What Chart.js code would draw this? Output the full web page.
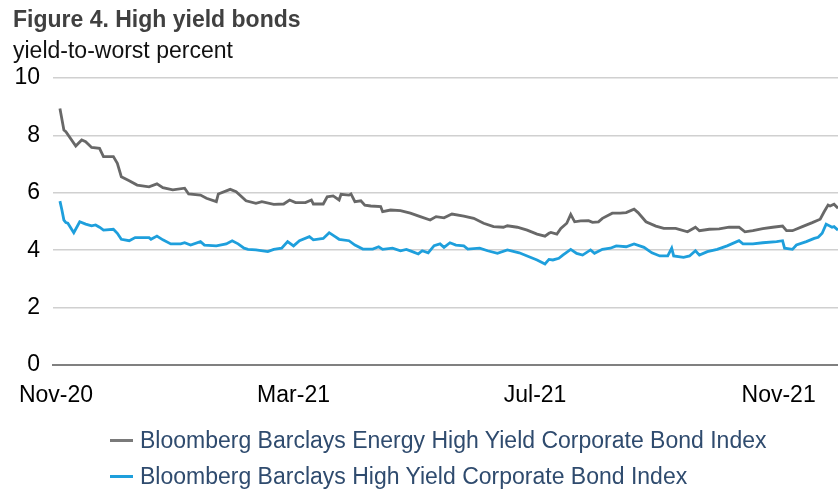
<!DOCTYPE html>
<html><head><meta charset="utf-8">
<script src="https://cdn.jsdelivr.net/npm/chart.js@4.4.1/dist/chart.umd.min.js"></script>
<style>
html,body{margin:0;padding:0;background:#fff;}
#wrap{position:relative;width:838px;height:489px;overflow:hidden;font-family:"Liberation Sans",Arial,sans-serif;}
#c{position:absolute;left:0;top:0;}
.t{position:absolute;white-space:nowrap;line-height:1;}
#title{left:13px;top:8px;font-size:23px;font-weight:bold;color:#404040;}
#sub{left:13px;top:39px;font-size:23px;color:#111;}
.leg{position:absolute;left:110px;font-size:23px;color:#2f4b6e;line-height:1;white-space:nowrap;}
.leg i{display:inline-block;width:23px;height:3px;vertical-align:middle;margin-right:7px;position:relative;top:-1px;}
</style></head><body>
<div id="wrap">
<canvas id="c" width="838" height="489"></canvas>
<div class="t" id="title">Figure 4. High yield bonds</div>
<div class="t" id="sub">yield-to-worst percent</div>
<div class="leg" id="leg1" style="top:429px"><i style="background:#7a7a7a"></i>Bloomberg Barclays Energy High Yield Corporate Bond Index</div>
<div class="leg" id="leg2" style="top:465px"><i style="background:#1e9fdc"></i>Bloomberg Barclays High Yield Corporate Bond Index</div>
</div>
<script>
// ---- data ----
const seriesNames = ['Bloomberg Barclays Energy High Yield Corporate Bond Index','Bloomberg Barclays High Yield Corporate Bond Index'];

const energyDates = ['2020-11-03','2020-11-05','2020-11-06','2020-11-11','2020-11-14','2020-11-16','2020-11-19','2020-11-23','2020-11-25','2020-11-30',
'2020-12-02','2020-12-04','2020-12-08','2020-12-12','2020-12-18','2020-12-22','2020-12-25','2020-12-30','2021-01-05','2021-01-07',
'2021-01-13','2021-01-16','2021-01-21','2021-01-22','2021-01-28','2021-01-31','2021-02-05','2021-02-10','2021-02-13','2021-02-19',
'2021-02-24','2021-02-27','2021-03-02','2021-03-07','2021-03-10','2021-03-11','2021-03-16','2021-03-18','2021-03-21','2021-03-24',
'2021-03-25','2021-03-29','2021-03-30','2021-04-01','2021-04-04','2021-04-06','2021-04-09','2021-04-14','2021-04-15','2021-04-19',
'2021-04-24','2021-04-29','2021-05-04','2021-05-09','2021-05-12','2021-05-16','2021-05-20','2021-05-26','2021-05-31','2021-06-05',
'2021-06-10','2021-06-15','2021-06-17','2021-06-22','2021-06-27','2021-07-02','2021-07-06','2021-07-08','2021-07-09','2021-07-12',
'2021-07-14','2021-07-17','2021-07-19','2021-07-21','2021-07-24','2021-07-28','2021-07-30','2021-08-02','2021-08-04','2021-08-09',
'2021-08-13','2021-08-16','2021-08-20','2021-08-22','2021-08-26','2021-08-31','2021-09-04','2021-09-10','2021-09-16','2021-09-20',
'2021-09-22','2021-09-27','2021-10-02','2021-10-07','2021-10-12','2021-10-15','2021-10-19','2021-10-24','2021-10-29','2021-11-03',
'2021-11-05','2021-11-08','2021-11-13','2021-11-18','2021-11-22','2021-11-24','2021-11-26','2021-11-27','2021-11-29','2021-12-01'];
const energyValues = [8.94,8.19,8.13,7.63,7.84,7.78,7.58,7.55,7.26,7.26,
7.03,6.56,6.42,6.27,6.21,6.31,6.18,6.10,6.16,5.96,
5.92,5.81,5.69,5.96,6.12,6.04,5.72,5.63,5.69,5.60,
5.61,5.75,5.66,5.66,5.75,5.61,5.61,5.86,5.89,5.75,
5.95,5.92,5.96,5.69,5.72,5.57,5.54,5.52,5.34,5.40,
5.38,5.29,5.17,5.05,5.17,5.13,5.26,5.19,5.11,4.94,
4.82,4.80,4.85,4.80,4.70,4.56,4.49,4.59,4.62,4.56,
4.76,4.94,5.25,4.99,5.02,5.03,4.97,4.99,5.11,5.29,
5.29,5.31,5.43,5.31,4.99,4.84,4.76,4.76,4.64,4.80,
4.68,4.73,4.74,4.80,4.80,4.64,4.68,4.75,4.80,4.84,
4.68,4.68,4.82,4.96,5.08,5.34,5.57,5.54,5.60,5.46];

const hyDates = ['2020-11-03','2020-11-04','2020-11-05','2020-11-06','2020-11-07','2020-11-10','2020-11-13','2020-11-16','2020-11-19','2020-11-21',
'2020-11-23','2020-11-25','2020-11-30','2020-12-02','2020-12-04','2020-12-08','2020-12-11','2020-12-18','2020-12-19','2020-12-22',
'2020-12-25','2020-12-29','2021-01-03','2021-01-05','2021-01-08','2021-01-13','2021-01-15','2021-01-21','2021-01-26','2021-01-29',
'2021-02-01','2021-02-04','2021-02-06','2021-02-10','2021-02-16','2021-02-19','2021-02-23','2021-02-26','2021-03-01','2021-03-04',
'2021-03-09','2021-03-11','2021-03-16','2021-03-19','2021-03-22','2021-03-24','2021-03-29','2021-04-01','2021-04-05','2021-04-10',
'2021-04-13','2021-04-15','2021-04-20','2021-04-24','2021-04-27','2021-04-30','2021-05-03','2021-05-05','2021-05-08','2021-05-11',
'2021-05-14','2021-05-16','2021-05-19','2021-05-22','2021-05-26','2021-05-28','2021-06-03','2021-06-07','2021-06-12','2021-06-17',
'2021-06-23','2021-06-27','2021-07-02','2021-07-06','2021-07-08','2021-07-10','2021-07-13','2021-07-15','2021-07-19','2021-07-22',
'2021-07-25','2021-07-29','2021-07-31','2021-08-04','2021-08-08','2021-08-11','2021-08-16','2021-08-20','2021-08-25','2021-08-29',
'2021-09-02','2021-09-06','2021-09-08','2021-09-09','2021-09-14','2021-09-17','2021-09-20','2021-09-22','2021-09-26','2021-10-01',
'2021-10-06','2021-10-12','2021-10-14','2021-10-19','2021-10-24','2021-10-31','2021-11-03','2021-11-04','2021-11-08','2021-11-10',
'2021-11-15','2021-11-19','2021-11-21','2021-11-23','2021-11-25','2021-11-28','2021-11-29','2021-12-01'];
const hyValues = [5.71,5.40,5.05,4.96,4.94,4.61,4.99,4.91,4.85,4.88,
4.80,4.70,4.73,4.59,4.38,4.33,4.44,4.44,4.38,4.49,
4.36,4.22,4.22,4.26,4.18,4.30,4.18,4.15,4.22,4.33,
4.22,4.07,4.03,4.01,3.95,4.03,4.07,4.30,4.15,4.33,
4.47,4.36,4.41,4.61,4.47,4.38,4.33,4.18,4.04,4.04,
4.12,4.03,4.07,3.98,4.03,3.95,3.87,3.98,3.91,4.16,
4.22,4.10,4.26,4.18,4.15,4.04,4.07,3.98,3.89,4.01,
3.91,3.80,3.66,3.52,3.68,3.66,3.72,3.83,4.03,3.89,
3.83,4.01,3.89,4.03,4.07,4.15,4.12,4.22,4.10,3.91,
3.80,3.80,4.07,3.80,3.75,3.80,3.98,3.83,3.95,4.03,
4.15,4.33,4.22,4.22,4.26,4.30,4.33,4.07,4.03,4.18,
4.30,4.41,4.45,4.59,4.91,4.80,4.82,4.70];

const tickDates = ['2020-11-01','2021-03-01','2021-07-01','2021-11-01'];
const tickLabels = ['Nov-20','Mar-21','Jul-21','Nov-21'];
const yTicks = [0,2,4,6,8,10];

// ---- helpers ----
const baseDate = '2020-11-01';
function dayNum(s){
  const p = s.split('-').map(Number), b = baseDate.split('-').map(Number);
  return (Date.UTC(p[0],p[1]-1,p[2]) - Date.UTC(b[0],b[1]-1,b[2])) / 86400000;
}
function pts(dates, vals){ return dates.map((d,i)=>({x:dayNum(d), y:vals[i]})); }
const tickDays = tickDates.map(dayNum);
const FONT = '"Liberation Sans", Arial, sans-serif';

new Chart(document.getElementById('c'), {
  type: 'line',
  data: {
    datasets: [
      {label: seriesNames[0], data: pts(energyDates, energyValues), borderColor:'#686868', borderWidth:2.8, pointRadius:0, tension:0, fill:false},
      {label: seriesNames[1], data: pts(hyDates, hyValues), borderColor:'#1e9fdc', borderWidth:2.8, pointRadius:0, tension:0, fill:false}
    ]
  },
  options: {
    responsive:false, animation:false, events:[],
    layout:{padding:{top:78,right:0,bottom:84,left:0}},
    plugins:{legend:{display:false}, tooltip:{enabled:false}},
    scales:{
      x:{
        type:'linear', min:-1.5, max:dayNum('2021-12-01'),
        afterBuildTicks:(s)=>{ s.ticks = tickDays.map(v=>({value:v})); },
        afterFit:(s)=>{ s.height = 40; },
        grid:{display:false},
        border:{display:true, color:'#808080', width:2},
        ticks:{autoSkip:false, maxRotation:0, padding:9, color:'#000',
          font:{family:FONT, size:23},
          callback:(v)=>{ const i = tickDays.indexOf(v); return i>=0 ? tickLabels[i] : ''; }}
      },
      y:{
        min:0, max:10,
        afterBuildTicks:(s)=>{ s.ticks = yTicks.map(v=>({value:v})); },
        afterFit:(s)=>{ s.width = 53; },
        border:{display:false},
        grid:{color:(ctx)=> ctx.tick && ctx.tick.value===0 ? 'rgba(0,0,0,0)' : '#d0d0d0', lineWidth:1.6, drawTicks:false},
        ticks:{padding:13, color:'#000', font:{family:FONT, size:23}}
      }
    }
  }
});
</script>
</body></html>
